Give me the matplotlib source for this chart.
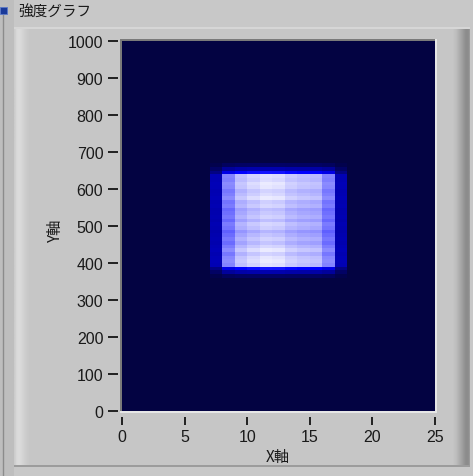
import numpy as np
import matplotlib
matplotlib.use("Agg")
import matplotlib.pyplot as plt
from matplotlib.colors import LinearSegmentedColormap
from matplotlib.patches import Rectangle

# ---- data ----
title = "強度グラフ"
x_label = "X軸"
y_label = "Y軸"
x_ticks = [0, 5, 10, 15, 20, 25]
y_ticks = [0, 100, 200, 300, 400, 500, 600, 700, 800, 900, 1000]
n_cols = 25          # x cells, width 1
n_rows = 100         # y cells, height 10
# intensity profile across the x cells (box rows)
col_profile = [0, 0, 0, 0, 0, 0, 0,
               0.31, 0.77, 0.89, 0.93, 0.96, 0.95, 0.91, 0.89, 0.88, 0.77, 0.31,
               0, 0, 0, 0, 0, 0, 0]
# row factors: rows 36..66 (y 360..670), elsewhere 0
box_first_row = 36
box_rows = [0.10, 0.30, 0.56,
            0.98, 1.00, 0.99, 0.95, 1.00, 0.96, 0.92, 0.95, 0.92, 0.89,
            0.94, 0.96, 0.91, 0.95, 0.93, 0.91, 0.96, 0.94, 1.00, 0.97,
            0.95, 0.99, 1.00, 0.97, 0.98,
            0.56, 0.30, 0.10]

row_profile = np.zeros(n_rows)
row_profile[box_first_row:box_first_row + len(box_rows)] = box_rows
Z = np.outer(row_profile, np.array(col_profile))

W, H = 473, 477
fig = plt.figure(figsize=(W / 100, H / 100), dpi=100)
bgc = "#c8c8c8"
fig.patch.set_facecolor(bgc)

# ---- decorative panel ----
bg = fig.add_axes([0, 0, 1, 1], zorder=-1)
bg.set_xlim(0, W)
bg.set_ylim(H, 0)
bg.axis("off")
bg.add_patch(Rectangle((0, 0), 14, H, color="#bebebe", lw=0))
bg.plot([2.5, 2.5], [16, H], color="#8c8c8c", lw=1)
bg.add_patch(Rectangle((0, 8), 7, 7, facecolor="#1a3a9a", edgecolor="#5a78c8", lw=0.6))
# frame
bg.add_patch(Rectangle((14, 28), 456, 440, color="#c6c6c6", lw=0))
grad_l = np.array([[0.80, 0.82, 0.85, 0.86, 0.86, 0.86, 0.85, 0.84, 0.83, 0.82,
                    0.81, 0.80, 0.79, 0.79, 0.78, 0.78, 0.78, 0.78]])
bg.imshow(np.dstack([grad_l] * 3), extent=(14, 32, 468, 28), aspect="auto",
          interpolation="bilinear", zorder=1)
grad_r = np.array([[0.78, 0.77, 0.76, 0.75, 0.74, 0.72, 0.70, 0.68, 0.66, 0.64,
                    0.62, 0.60, 0.58, 0.56, 0.55, 0.55, 0.56, 0.60]])
bg.imshow(np.dstack([grad_r] * 3), extent=(452, 470, 468, 28), aspect="auto",
          interpolation="bilinear", zorder=1)
bg.add_patch(Rectangle((14, 28), 456, 2, color="#d6d6d6", lw=0, zorder=2))
bg.add_patch(Rectangle((14, 466), 456, 2, color="#9c9c9c", lw=0, zorder=2))
# plot sunken border
bg.add_patch(Rectangle((120, 40), 317, 2, color="#7a7a7a", lw=0, zorder=3))
bg.add_patch(Rectangle((120, 40), 2, 374, color="#7a7a7a", lw=0, zorder=3))
bg.add_patch(Rectangle((435, 40), 2, 374, color="#e6e6e6", lw=0, zorder=3))
bg.add_patch(Rectangle((120, 412), 317, 2, color="#e6e6e6", lw=0, zorder=3))

bg.text(18, 13, title, fontsize=10.5, family=["Noto Sans CJK JP", "DejaVu Sans"],
        ha="left", va="center", color="#1a1a1a")

# ---- intensity graph ----
cmap = LinearSegmentedColormap.from_list(
    "lv", [(0.0, (0.01, 0.01, 0.26)), (0.5, (0.0, 0.0, 1.0)), (1.0, (1.0, 1.0, 1.0))])
ax = fig.add_axes([122 / W, 1 - 412 / H, 313 / W, 370 / H])
xe = np.arange(n_cols + 1)
ye = np.arange(n_rows + 1) * 10
ax.pcolormesh(xe, ye, Z, cmap=cmap, vmin=0, vmax=1, shading="flat")
ax.set_xlim(0, 25)
ax.set_ylim(0, 1000)
for s in ax.spines.values():
    s.set_visible(False)
ax.spines["bottom"].set_position(("outward", 4))
ax.spines["left"].set_position(("outward", 3))
ax.set_xticks(x_ticks)
ax.set_yticks(y_ticks)
ax.set_xticklabels([str(v) for v in x_ticks])
ax.set_yticklabels([str(v) for v in y_ticks])
ax.tick_params(axis="x", direction="out", length=6, width=1.4, color="#202020",
               pad=3, labelsize=11.5, labelcolor="#1a1a1a")
ax.tick_params(axis="y", direction="out", length=7, width=1.4, color="#202020",
               pad=3.5, labelsize=11.5, labelcolor="#1a1a1a")
for lab in ax.get_xticklabels() + ax.get_yticklabels():
    lab.set_family(["Liberation Sans", "DejaVu Sans"])

bg.text(278, 457, x_label, fontsize=11, family=["Noto Sans CJK JP", "DejaVu Sans"],
        ha="center", va="center", color="#1a1a1a")
bg.text(55, 230, y_label, fontsize=11, family=["Noto Sans CJK JP", "DejaVu Sans"],
        ha="center", va="center", rotation=90, color="#1a1a1a")

fig.savefig("out.png", dpi=100, facecolor=bgc)
